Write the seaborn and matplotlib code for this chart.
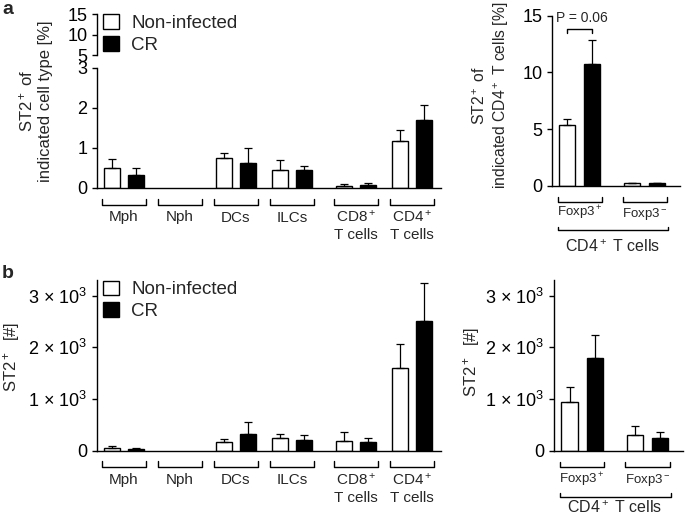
import numpy as np
import pandas as pd
import matplotlib
matplotlib.use("Agg")
import matplotlib.pyplot as plt
import matplotlib.transforms as mtrans
from matplotlib.patches import Patch
import seaborn as sns

groups = ["Non-infected", "CR"]

# panel a/b left: cell types
cells = ["Mph", "Nph", "DCs", "ILCs", "CD8$^+$\nT cells", "CD4$^+$\nT cells"]
cell_pos = [0, 1, 2, 3, 4.14, 5.14]

# ST2+ of indicated cell type [%], mean and SEM
pct_ni = [0.50, np.nan, 0.73, 0.44, 0.04, 1.16]
pct_ni_sem = [0.21, np.nan, 0.13, 0.26, 0.04, 0.27]
pct_cr = [0.32, np.nan, 0.62, 0.44, 0.07, 1.69]
pct_cr_sem = [0.18, np.nan, 0.38, 0.11, 0.05, 0.38]

# ST2+ counts [#]
num_ni = [58, np.nan, 168, 251, 188, 1600]
num_ni_sem = [32, np.nan, 52, 78, 180, 458]
num_cr = [26, np.nan, 317, 213, 163, 2515]
num_cr_sem = [19, np.nan, 232, 85, 77, 729]

# right panels: CD4+ T cell subsets
subsets = ["Foxp3$^+$", "Foxp3$^-$"]
subset_pos = [0, 1]
treg_pct_ni = [5.36, 0.20]
treg_pct_ni_sem = [0.50, 0.05]
treg_pct_cr = [10.7, 0.20]
treg_pct_cr_sem = [2.16, 0.06]

treg_num_ni = [936, 304]
treg_num_ni_sem = [302, 174]
treg_num_cr = [1787, 246]
treg_num_cr_sem = [451, 110]

count_ticks = [0, 1000, 2000, 3000]
count_tick_labels = ["0", "1 × 10$^3$", "2 × 10$^3$", "3 × 10$^3$"]
p_label = "P = 0.06"

sns.set_style("ticks")
plt.rcParams["font.family"] = ["Liberation Sans", "DejaVu Sans"]
plt.rcParams["mathtext.fontset"] = "custom"
plt.rcParams["mathtext.rm"] = "Liberation Sans"
plt.rcParams["mathtext.it"] = "Liberation Sans:italic"
plt.rcParams["mathtext.bf"] = "Liberation Sans:bold"
plt.rcParams["axes.linewidth"] = 1.0
plt.rcParams["ytick.major.width"] = 1.0
plt.rcParams["ytick.major.size"] = 3.5
plt.rcParams["ytick.labelsize"] = 13
plt.rcParams["ytick.color"] = "black"
plt.rcParams["axes.edgecolor"] = "black"

W, H = 685, 516
fig = plt.figure(figsize=(W / 100, H / 100), dpi=100)


def px_axes(left, right, top, bottom):
    return fig.add_axes([left / W, 1 - bottom / H, (right - left) / W, (bottom - top) / H])


def draw_bars(ax, pos, ni, ni_sem, cr, cr_sem, width, gap):
    n = len(pos)
    df = pd.DataFrame({
        "pos": list(pos) * 2,
        "group": [groups[0]] * n + [groups[1]] * n,
        "value": list(ni) + list(cr),
        "sem": list(ni_sem) + list(cr_sem),
    }).dropna()
    sns.barplot(data=df, x="pos", y="value", hue="group", hue_order=groups,
                palette=["white", "black"], native_scale=True, width=width, gap=gap,
                edgecolor="black", linewidth=1.0, errorbar=None, saturation=1,
                legend=False, ax=ax)
    off = df["group"].map({groups[0]: -width / 4, groups[1]: width / 4})
    ax.errorbar(df["pos"] + off, df["value"], yerr=[np.zeros(len(df)), df["sem"]],
                fmt="none", ecolor="black", elinewidth=0.9, capsize=3.2, capthick=0.9)
    ax.set_xlabel("")
    ax.set_ylabel("")
    ax.set_xticks([])
    sns.despine(ax=ax)


def ax_h(ax):
    return ax.get_position().height * H


def bracket(ax, x0, x1, line_px, leg_px):
    tr = mtrans.blended_transform_factory(ax.transData, ax.transAxes)
    h = ax_h(ax)
    ax.plot([x0, x0, x1, x1], [-leg_px / h, -line_px / h, -line_px / h, -leg_px / h],
            transform=tr, clip_on=False, color="black", lw=1.0)


def label_below(ax, x, text, base_px, pitch, size):
    tr = mtrans.blended_transform_factory(ax.transData, ax.transAxes)
    h = ax_h(ax)
    for i, line in enumerate(text.split("\n")):
        ax.text(x, -(base_px + i * pitch) / h, line, transform=tr, ha="center",
                va="baseline", fontsize=size, clip_on=False)


def cell_axis(ax, line_px, leg_px, base_px):
    for p, c in zip(cell_pos, cells):
        bracket(ax, p - 0.39, p + 0.39, line_px, leg_px)
        label_below(ax, p, c, base_px, 17.6, 11)


def subset_axis(ax, base_px, big_line, big_leg, big_base):
    for p, s in zip(subset_pos, subsets):
        bracket(ax, p - 0.34, p + 0.34, 16, 11)
        label_below(ax, p, s, base_px, 0, 9.5)
    bracket(ax, subset_pos[0] - 0.34, subset_pos[1] + 0.36, big_line, big_leg)
    label_below(ax, np.mean(subset_pos), "CD4$^+$ T cells", big_base, 0, 11.5)


def legend(top_px):
    handles = [Patch(facecolor="white", edgecolor="black", lw=1.0),
               Patch(facecolor="black", edgecolor="black", lw=1.0)]
    fig.legend(handles, groups, loc="upper left", bbox_to_anchor=(103 / W, 1 - top_px / H),
               frameon=False, fontsize=13.5, handlelength=0.85, handleheight=0.85,
               handletextpad=0.65, labelspacing=0.2, borderpad=0, borderaxespad=0)


left_xlim = (-0.48, 5.66)
right_xlim = (-0.43, 1.54)

# ---- panel a, left (broken axis)
ax_a_up = px_axes(97, 441, 14.3, 55)
ax_a = px_axes(97, 441, 67.7, 187.5)
draw_bars(ax_a, cell_pos, pct_ni, pct_ni_sem, pct_cr, pct_cr_sem, 0.86, 0.36)
ax_a.set_ylim(0, 3)
ax_a.set_yticks([0, 1, 2, 3])
ax_a.set_xlim(*left_xlim)
cell_axis(ax_a, 17, 11, 34)

ax_a_up.set_ylim(5, 15)
ax_a_up.set_yticks([5, 10, 15])
ax_a_up.set_xlim(*left_xlim)
ax_a_up.set_xticks([])
sns.despine(ax=ax_a_up, bottom=True)
ax_a_up.patch.set_alpha(0)

fig.text(35 / W, 1 - 101 / H, "ST2$^+$ of\nindicated cell type [%]", rotation=90,
         ha="center", va="center", fontsize=12, multialignment="center")
legend(14)

# ---- panel a, right
ax_ar = px_axes(552, 680, 15.7, 185.7)
draw_bars(ax_ar, subset_pos, treg_pct_ni, treg_pct_ni_sem, treg_pct_cr, treg_pct_cr_sem, 0.77, 0.36)
ax_ar.set_ylim(0, 15)
ax_ar.set_yticks([0, 5, 10, 15])
ax_ar.set_xlim(*right_xlim)
subset_axis(ax_ar, 31, 44.5, 41, 66)
x0, x1 = subset_pos[0] - 0.77 / 4, subset_pos[0] + 0.77 / 4
ax_ar.plot([x0, x0, x1, x1], [13.45, 13.8, 13.8, 13.45], color="black", lw=1.0, clip_on=False)
ax_ar.text(subset_pos[0] + 0.03, 14.2, p_label, ha="center", va="bottom", fontsize=10)
fig.text(491 / W, 1 - 95 / H, "ST2$^+$ of\nindicated CD4$^+$ T cells [%]", rotation=90,
         ha="center", va="center", fontsize=11.3, multialignment="center")

# ---- panel b, left
ax_b = px_axes(97, 441, 280, 450.7)
draw_bars(ax_b, cell_pos, num_ni, num_ni_sem, num_cr, num_cr_sem, 0.86, 0.36)
ax_b.set_ylim(0, 3300)
ax_b.set_yticks(count_ticks)
ax_b.set_yticklabels(count_tick_labels)
ax_b.set_xlim(*left_xlim)
cell_axis(ax_b, 16, 10.5, 33.5)
fig.text(12 / W, 1 - 357 / H, "ST2$^+$  [#]", rotation=90, ha="center", va="center", fontsize=12)
legend(280.5)

# ---- panel b, right
ax_br = px_axes(554, 683, 280, 450.7)
draw_bars(ax_br, subset_pos, treg_num_ni, treg_num_ni_sem, treg_num_cr, treg_num_cr_sem, 0.77, 0.36)
ax_br.set_ylim(0, 3300)
ax_br.set_yticks(count_ticks)
ax_br.set_yticklabels(count_tick_labels)
ax_br.set_xlim(*right_xlim)
subset_axis(ax_br, 32.6, 46, 42, 62.6)
fig.text(472 / W, 1 - 362 / H, "ST2$^+$  [#]", rotation=90, ha="center", va="center", fontsize=12)

fig.text(2 / W, 1 - 1 / H, "a", fontsize=14, fontweight="bold", ha="left", va="top")
fig.text(2 / W, 1 - 265 / H, "b", fontsize=14, fontweight="bold", ha="left", va="top")

fig.savefig("out.png", dpi=100)
